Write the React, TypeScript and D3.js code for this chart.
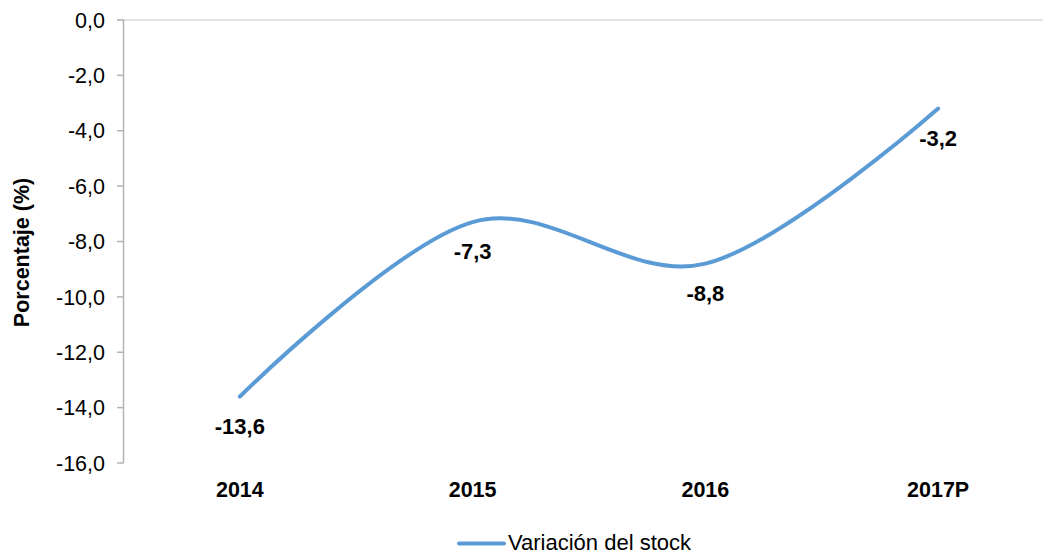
import React from "react";
import * as d3 from "d3";

const categories = ["2014", "2015", "2016", "2017P"];
const values = [-13.6, -7.3, -8.8, -3.2];
const valueLabels = ["-13,6", "-7,3", "-8,8", "-3,2"];
const yTicks = [0, -2, -4, -6, -8, -10, -12, -14, -16];
const seriesName = "Variación del stock";
const yTitle = "Porcentaje (%)";

const W = 1043;
const H = 555;
const FONT = "'Liberation Sans', Arial, sans-serif";
const BLUE = "#5b9bd5";

export default function App() {
  const x = d3.scalePoint<string>().domain(categories).range([123.5, 1054.5]).padding(0.5);
  const y = d3.scaleLinear().domain([-16, 0]).range([463, 20]);
  const fmt = (v: number) => v.toFixed(1).replace(".", ",");
  const line = d3
    .line<number>()
    .x((_, i) => x(categories[i]) as number)
    .y((d) => y(d))
    .curve(d3.curveCardinal.tension(0));

  return (
    <svg
      width={W}
      height={H}
      style={{ position: "absolute", left: 0, top: 0, background: "#fff" }}
      fontFamily={FONT}
    >
      <line x1={117} x2={W} y1={y(0)} y2={y(0)} stroke="#d9d9d9" strokeWidth={1.5} />
      <line x1={123.5} x2={123.5} y1={y(0)} y2={y(-16)} stroke="#b3b3b3" strokeWidth={1.5} />
      {yTicks.map((t) => (
        <g key={t}>
          <line x1={117} x2={123.5} y1={y(t)} y2={y(t)} stroke="#b3b3b3" strokeWidth={1.5} />
          <text x={105} y={y(t)} dy="0.36em" textAnchor="end" fontSize={21.5} fill="#000">
            {fmt(t)}
          </text>
        </g>
      ))}
      <text
        transform={`translate(29,${(y(0) + y(-16)) / 2 + 11}) rotate(-90)`}
        textAnchor="middle"
        fontSize={21.5}
        fontWeight="bold"
        fill="#000"
      >
        {yTitle}
      </text>
      {categories.map((c) => (
        <text key={c} x={x(c)} y={497} textAnchor="middle" fontSize={21.5} fontWeight="bold" fill="#000">
          {c}
        </text>
      ))}
      <path d={line(values) || ""} fill="none" stroke={BLUE} strokeWidth={4} strokeLinecap="round" />
      {values.map((v, i) => (
        <text
          key={i}
          x={x(categories[i])}
          y={y(v) + 37}
          textAnchor="middle"
          fontSize={22}
          fontWeight="bold"
          fill="#000"
        >
          {valueLabels[i]}
        </text>
      ))}
      <line x1={459} x2={504} y1={543.5} y2={543.5} stroke={BLUE} strokeWidth={4} strokeLinecap="round" />
      <text x={508} y={550} fontSize={22} fill="#000">
        {seriesName}
      </text>
    </svg>
  );
}
